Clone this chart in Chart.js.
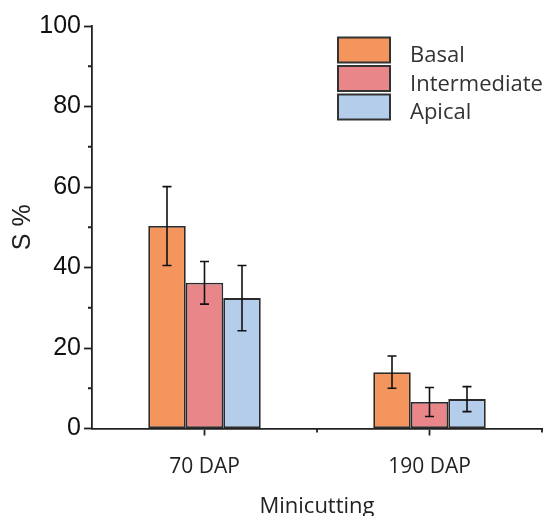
<!DOCTYPE html>
<html>
<head>
<meta charset="utf-8">
<script src="https://cdn.jsdelivr.net/npm/chart.js@4"></script>
<style>
  html, body { margin: 0; padding: 0; background: #fff; }
  #wrap { width: 546px; height: 516px; }
</style>
</head>
<body>
<div id="wrap"><canvas id="chart"></canvas></div>
<script>
// Chart data
let categories = ['70 DAP', '190 DAP'];
let seriesNames = ['Basal', 'Intermediate', 'Apical'];
let basal = [50.3, 14.0];
let basalErr = [9.8, 4.0];
let intermediate = [36.2, 6.6];
let intermediateErr = [5.3, 3.6];
let apical = [32.4, 7.3];
let apicalErr = [8.1, 3.1];
let yTicks = [0, 20, 40, 60, 80, 100];
let yMinorTicks = [10, 30, 50, 70, 90];

let colours = ['#f3955c', '#e8868a', '#b3cdeb'];
let edge = '#2b2b2b';

// Error bars drawn on top of each bar
let errorBars = {
  id: 'errorBars',
  afterDatasetsDraw(chart) {
    let ctx = chart.ctx;
    let y = chart.scales.y;
    ctx.save();
    ctx.strokeStyle = '#111';
    ctx.lineWidth = 1.6;
    chart.data.datasets.forEach((ds, i) => {
      let meta = chart.getDatasetMeta(i);
      meta.data.forEach((bar, j) => {
        let v = ds.data[j];
        let e = ds.errors[j];
        let top = y.getPixelForValue(v + e);
        let bot = y.getPixelForValue(v - e);
        ctx.beginPath();
        ctx.moveTo(bar.x, top); ctx.lineTo(bar.x, bot);
        ctx.moveTo(bar.x - 4.5, top); ctx.lineTo(bar.x + 4.5, top);
        ctx.moveTo(bar.x - 4.5, bot); ctx.lineTo(bar.x + 4.5, bot);
        ctx.stroke();
      });
    });
    ctx.restore();
  }
};

// Minor ticks and stacked legend
let extras = {
  id: 'extras',
  afterDraw(chart) {
    let ctx = chart.ctx;
    let x = chart.scales.x;
    let y = chart.scales.y;
    ctx.save();
    ctx.strokeStyle = '#222';
    ctx.lineWidth = 1.8;
    ctx.beginPath();
    yMinorTicks.forEach(v => {
      let py = y.getPixelForValue(v);
      ctx.moveTo(x.left - 4, py); ctx.lineTo(x.left, py);
    });
    // ticks between categories and at the end
    let half = (x.getPixelForValue(1) - x.getPixelForValue(0)) / 2;
    [x.getPixelForValue(0) + half, x.right].forEach(px => {
      ctx.moveTo(px, y.bottom); ctx.lineTo(px, y.bottom + 4);
    });
    ctx.stroke();

    // legend
    let bx = 338, by = 37.5, bw = 52, bh = 25, step = 28.5;
    ctx.font = '22px "Open Sans"';
    ctx.textBaseline = 'middle';
    ctx.textAlign = 'left';
    chart.data.datasets.forEach((ds, i) => {
      let top = by + i * step;
      ctx.fillStyle = ds.backgroundColor;
      ctx.fillRect(bx, top, bw, bh);
      ctx.strokeStyle = '#333';
      ctx.lineWidth = 2;
      ctx.strokeRect(bx, top, bw, bh);
      ctx.fillStyle = '#333';
      ctx.fillText(ds.label, 410, top + bh / 2 + 6);
    });
    ctx.restore();
  }
};

let datasets = [basal, intermediate, apical].map((vals, i) => ({
  label: seriesNames[i],
  data: vals,
  errors: [basalErr, intermediateErr, apicalErr][i],
  backgroundColor: colours[i],
  borderColor: edge,
  borderWidth: 1.8,
  borderSkipped: false,
  categoryPercentage: 0.5,
  barPercentage: 1.0,
}));

let chart = new Chart(document.getElementById('chart'), {
  type: 'bar',
  data: { labels: categories, datasets: datasets },
  plugins: [errorBars, extras],
  options: {
    responsive: true,
    maintainAspectRatio: false,
    animation: false,
    layout: { padding: { top: 26, right: 4, left: 0, bottom: 0 } },
    plugins: {
      legend: { display: false },
      tooltip: { enabled: false },
    },
    scales: {
      x: {
        offset: true,
        grid: { display: true, drawOnChartArea: false, offset: false, tickLength: 7, tickColor: '#222', tickWidth: 1.8 },
        border: { display: true, color: '#222', width: 1.8 },
        ticks: { color: '#222', font: { family: 'Open Sans', size: 21 }, padding: 19 },
        title: {
          display: true,
          text: 'Minicutting',
          color: '#222',
          font: { family: 'Open Sans', size: 22 },
          padding: { top: 0, bottom: -4 },
        },
        afterFit(scale) { scale.height = 87.5; },
      },
      y: {
        min: 0,
        max: 100,
        afterBuildTicks(scale) { scale.ticks = yTicks.map(v => ({ value: v })); },
        grid: { display: true, drawOnChartArea: false, tickLength: 8, tickColor: '#222', tickWidth: 1.8 },
        border: { display: true, color: '#222', width: 1.8 },
        ticks: { color: '#111', font: { family: 'Liberation Sans', size: 25 }, padding: 3 },
        title: {
          display: true,
          text: 'S %',
          color: '#222',
          font: { family: 'Liberation Sans', size: 25 },
          padding: { top: 8, bottom: 0 },
        },
        afterFit(scale) { scale.width = 92; },
      },
    },
  },
});
</script>
</body>
</html>
